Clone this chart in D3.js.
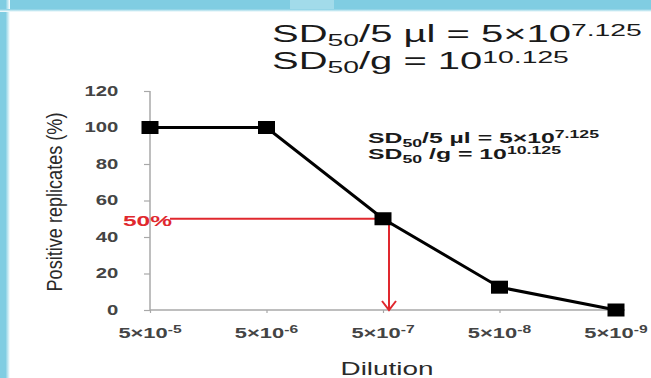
<!DOCTYPE html>
<html>
<head>
<meta charset="utf-8">
<script src="https://cdn.jsdelivr.net/npm/d3@7"></script>
<style>
  html, body { margin: 0; padding: 0; background: #fff; }
  svg { display: block; font-family: "Liberation Sans", Arial, sans-serif; }
</style>
</head>
<body>
<svg id="chart" width="651" height="378"></svg>
<script>
// Endpoint titration: share of positive replicates per dilution step
const dilutionMantissa = [5, 5, 5, 5, 5];
const dilutionExponents = [-5, -6, -7, -8, -9];
const positiveReplicates = [100, 100, 50, 12.5, 0];
const yTicks = [0, 20, 40, 60, 80, 100, 120];
const threshold = 50;
const titleLines = [
  { lead: "SD", sub: "50", mid: "/5 µl = 5×10", sup: "7.125" },
  { lead: "SD", sub: "50", mid: "/g = 10", sup: "10.125" }
];
const noteLines = [
  { lead: "SD", sub: "50", mid: "/5 µl = 5×10", sup: "7.125" },
  { lead: "SD", sub: "50", mid: " /g = 10", sup: "10.125" }
];

const svg = d3.select("#chart");
const categories = dilutionExponents.map((e, i) => `${dilutionMantissa[i]}e${e}`);

// frame bands
svg.append("rect").attr("x", 0).attr("y", 0).attr("width", 651).attr("height", 10).attr("fill", "#80cde2");
svg.append("rect").attr("x", 290).attr("y", 0).attr("width", 44).attr("height", 10).attr("fill", "#a2dbea");
const defs = svg.append("defs");
const lg = defs.append("linearGradient").attr("id", "edge");
lg.append("stop").attr("offset", "0%").attr("stop-color", "#80cde2");
lg.append("stop").attr("offset", "55%").attr("stop-color", "#80cde2");
lg.append("stop").attr("offset", "100%").attr("stop-color", "#ffffff");
svg.append("rect").attr("x", 0).attr("y", 0).attr("width", 10).attr("height", 378).attr("fill", "url(#edge)");
const tg = defs.append("linearGradient").attr("id", "topEdge")
  .attr("x1", 0).attr("y1", 0).attr("x2", 0).attr("y2", 1);
tg.append("stop").attr("offset", "0%").attr("stop-color", "#80cde2");
tg.append("stop").attr("offset", "100%").attr("stop-color", "#ffffff");
svg.append("rect").attr("x", 0).attr("y", 9).attr("width", 651).attr("height", 3).attr("fill", "url(#topEdge)");

const x = d3.scalePoint().domain(categories).range([150, 616]);
const y = d3.scaleLinear().domain([0, 120]).range([310, 91]);

// stretch a text element horizontally so that it spans the given width
function fitWidth(sel, ax, width) {
  const w = sel.node().getBBox().width;
  const s = width / w;
  sel.attr("transform", `translate(${ax},0) scale(${s},1) translate(${-ax},0)`);
  return s;
}
function scaleX(sel, ax, s) {
  sel.attr("transform", `translate(${ax},0) scale(${s},1) translate(${-ax},0)`);
}

function richText(g, cfg, px, py, size, subSize, subDy, supDy, weight) {
  const t = g.append("text").attr("x", px).attr("y", py)
    .attr("font-size", size).attr("font-weight", weight).attr("fill", "#1a1a1a");
  t.append("tspan").text(cfg.lead);
  t.append("tspan").attr("font-size", subSize).attr("dy", subDy).text(cfg.sub);
  t.append("tspan").attr("dy", -subDy).text(cfg.mid);
  t.append("tspan").attr("font-size", subSize).attr("dy", -supDy).text(cfg.sup);
  return t;
}

// headline
const t1 = richText(svg, titleLines[0], 272, 42, 24, 17, 4, 6, "normal");
fitWidth(t1, 272, 370);
const t2 = richText(svg, titleLines[1], 272, 69, 24, 17, 4, 6, "normal");
fitWidth(t2, 272, 297);

// axes
svg.append("line").attr("x1", 150).attr("x2", 150).attr("y1", y(120)).attr("y2", y(0))
  .attr("stroke", "#a8a8a8").attr("stroke-width", 1.5);
svg.append("line").attr("x1", 150).attr("x2", 625).attr("y1", y(0)).attr("y2", y(0))
  .attr("stroke", "#a8a8a8").attr("stroke-width", 1.5);

const yAxis = svg.append("g").attr("transform", "translate(150,0)")
  .call(d3.axisLeft(y).tickValues(yTicks).tickSize(6).tickPadding(23));
yAxis.select(".domain").remove();
yAxis.selectAll(".tick line").attr("stroke", "#a8a8a8").attr("stroke-width", 1.2);
yAxis.selectAll(".tick text").attr("font-size", 14).attr("font-weight", "bold").attr("fill", "#444")
  .attr("font-family", "Liberation Sans, Arial, sans-serif")
  .each(function () { scaleX(d3.select(this), -23, 1.45); });

const xAxis = svg.append("g").attr("transform", `translate(0,${y(0)})`)
  .call(d3.axisBottom(x).tickSize(3).tickFormat(""));
xAxis.select(".domain").remove();
xAxis.selectAll(".tick line").attr("stroke", "#a8a8a8").attr("stroke-width", 1.2);

categories.forEach((c, i) => {
  const t = svg.append("text").attr("x", x(c)).attr("y", 338)
    .attr("text-anchor", "middle").attr("font-size", 14).attr("font-weight", "bold").attr("fill", "#444");
  t.append("tspan").text(`${dilutionMantissa[i]}×10`);
  t.append("tspan").attr("font-size", 10).attr("dy", -5).text(`${dilutionExponents[i]}`);
  fitWidth(t, x(c), 64);
});

// axis titles
const xt = svg.append("text").attr("x", 387).attr("y", 375).attr("text-anchor", "middle")
  .attr("font-size", 18).attr("fill", "#2a2a2a").text("Dilution");
fitWidth(xt, 387, 93);

const yt = svg.append("text").attr("x", 0).attr("y", 0).attr("text-anchor", "middle")
  .attr("font-size", 17).attr("fill", "#2a2a2a").text("Positive replicates (%)");
const ytw = yt.node().getBBox().width;
yt.attr("transform", `translate(62,202) rotate(-90) scale(${179 / ytw},1.3)`);

// 50% guide: horizontal to the curve, then an arrow down to the dilution axis
const red = "#e0282e";
const ix = x(categories[2]) + 6;
svg.append("line").attr("x1", 170).attr("x2", ix).attr("y1", y(threshold)).attr("y2", y(threshold))
  .attr("stroke", red).attr("stroke-width", 2);
svg.append("line").attr("x1", ix).attr("x2", ix).attr("y1", y(threshold)).attr("y2", y(0))
  .attr("stroke", red).attr("stroke-width", 2);
svg.append("path")
  .attr("d", `M${ix - 7},${y(0) - 9} L${ix},${y(0)} L${ix + 7},${y(0) - 9}`)
  .attr("fill", "none").attr("stroke", red).attr("stroke-width", 2);
const lbl = svg.append("text").attr("x", 123).attr("y", y(threshold) + 7)
  .attr("font-size", 14).attr("font-weight", "bold").attr("fill", red).text(`${threshold}%`);
fitWidth(lbl, 123, 50);

// curve and markers
const line = d3.line().x((d, i) => x(categories[i])).y(d => y(d));
svg.append("path").datum(positiveReplicates).attr("d", line)
  .attr("fill", "none").attr("stroke", "#000").attr("stroke-width", 3);
svg.selectAll("rect.pt").data(positiveReplicates).join("rect").attr("class", "pt")
  .attr("x", (d, i) => x(categories[i]) - 8.5).attr("y", d => y(d) - 6.5)
  .attr("width", 17).attr("height", 13).attr("fill", "#000");

// in-plot note
const n1 = richText(svg, noteLines[0], 368, 143, 14, 10, 4, 5, "bold");
fitWidth(n1, 368, 232);
const n2 = richText(svg, noteLines[1], 368, 159, 14, 10, 4, 5, "bold");
fitWidth(n2, 368, 194);
</script>
</body>
</html>
